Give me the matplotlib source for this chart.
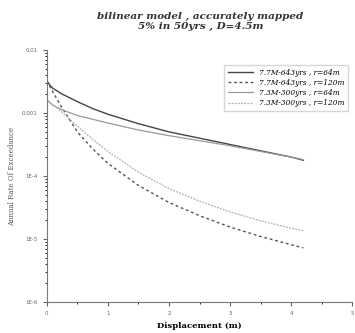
import numpy as np
import matplotlib.pyplot as plt
from matplotlib.ticker import FixedLocator, LogLocator, NullFormatter

# displacement (m)
disp = [0.0, 0.05, 0.1, 0.25, 0.5, 0.75, 1.0, 1.5, 2.0, 2.5, 3.0, 3.5, 4.0, 4.2]

# log10 of annual rate
log_643_64 = [-2.49, -2.56, -2.61, -2.70, -2.82, -2.93, -3.02, -3.17, -3.30, -3.40, -3.50, -3.60, -3.70, -3.75]
log_643_120 = [-2.49, -2.58, -2.67, -2.92, -3.30, -3.57, -3.80, -4.15, -4.42, -4.63, -4.81, -4.96, -5.09, -5.14]
log_300_64 = [-2.79, -2.84, -2.88, -2.95, -3.04, -3.10, -3.16, -3.27, -3.36, -3.44, -3.52, -3.61, -3.70, -3.74]
log_300_120 = [-2.79, -2.83, -2.87, -2.99, -3.21, -3.42, -3.61, -3.94, -4.20, -4.40, -4.57, -4.71, -4.83, -4.87]

labels = ["7.7M-643yrs , r=64m", "7.7M-643yrs , r=120m",
          "7.3M-300yrs , r=64m", "7.3M-300yrs , r=120m"]
y_ticks = [1e-6, 1e-5, 1e-4, 1e-3, 1e-2]
y_ticklabels = ["1E-6", "1E-5", "1E-4", "0.001", "0.01"]
x_ticks = [0, 1, 2, 3, 4, 5]

fig = plt.figure(figsize=(3.55, 3.33), dpi=100)
ax = fig.add_axes([0.132, 0.093, 0.86, 0.757])

series = [log_643_64, log_643_120, log_300_64, log_300_120]
styles = [
    dict(color="#444444", ls="-", lw=1.0),
    dict(color="#555555", ls=(0, (2, 2)), lw=1.0),
    dict(color="#999999", ls="-", lw=0.9),
    dict(color="#b0b0b0", ls=(0, (1.5, 1)), lw=0.9),
]
for vals, lab, st in zip(series, labels, styles):
    ax.plot(disp, 10 ** np.array(vals), label=lab, **st)

ax.set_yscale("log")
ax.set_ylim(1e-6, 1e-2)
ax.set_xlim(0, 5)
ax.yaxis.set_major_locator(FixedLocator(y_ticks))
ax.set_yticklabels(y_ticklabels)
ax.yaxis.set_minor_locator(LogLocator(base=10, subs=np.arange(2, 10)))
ax.yaxis.set_minor_formatter(NullFormatter())
ax.set_xticks(x_ticks)
ax.set_xticks(np.arange(0, 5.01, 0.5), minor=True)
ax.tick_params(labelsize=4, colors="#666666", length=3)
ax.tick_params(which="minor", length=1.5)

for side in ["top", "right"]:
    ax.spines[side].set_visible(False)
ax.spines["left"].set_color("#777777")
ax.spines["bottom"].set_color("#777777")

ax.set_xlabel("Displacement (m)", fontsize=6, fontweight="bold", family="serif")
ax.set_ylabel("Annual Rate Of Exceedance", fontsize=5, family="serif", color="#555555")

leg = ax.legend(loc="upper right", bbox_to_anchor=(1.0, 0.955),
                prop=dict(family="serif", style="italic", size=5.3),
                fancybox=False, edgecolor="#cccccc", handlelength=3.5,
                borderpad=0.5, labelspacing=0.3)

fig.suptitle("bilinear model , accurately mapped\n5% in 50yrs , D=4.5m",
             x=0.565, y=0.965, fontsize=7.5, fontweight="bold", style="italic",
             family="serif", color="#333333")

fig.savefig("out.png", dpi=100)
